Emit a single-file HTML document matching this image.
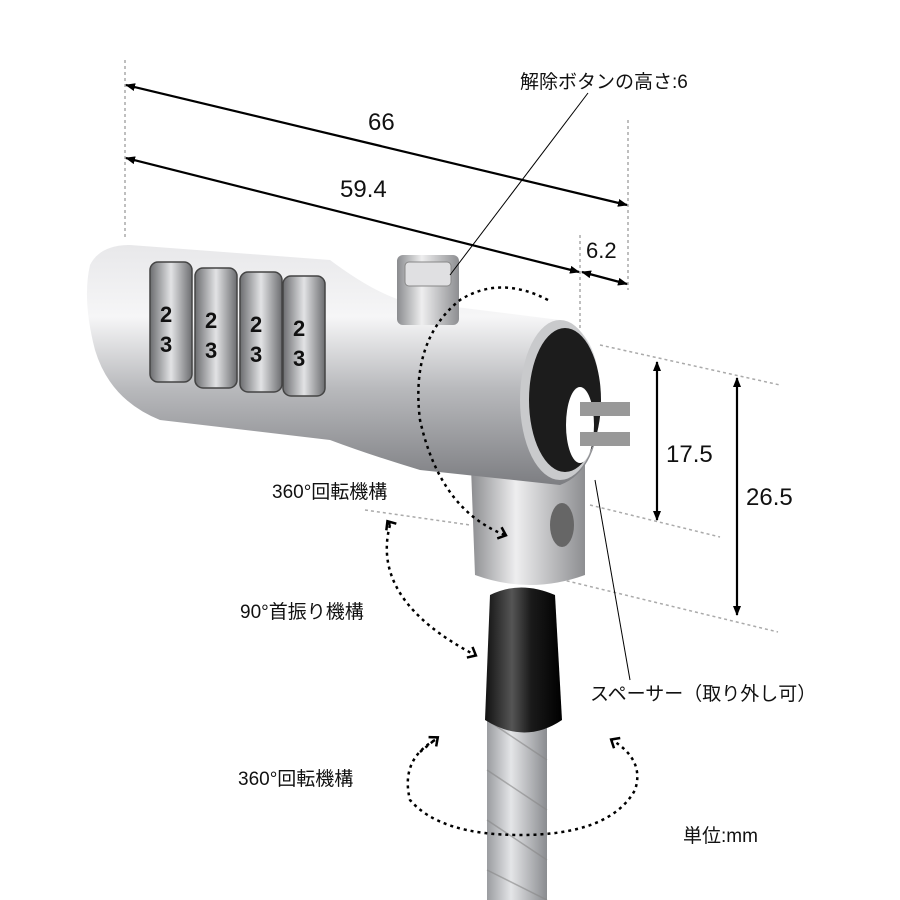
<!DOCTYPE html>
<html><head><meta charset="utf-8"><style>
body{margin:0;background:#fff;}
svg{display:block}
text{font-family:"Liberation Sans","Noto Sans CJK JP",sans-serif;fill:#111}
</style></head><body>
<svg width="900" height="900" viewBox="0 0 900 900" xmlns="http://www.w3.org/2000/svg">
<defs>
<linearGradient id="silv" x1="0" y1="0" x2="0" y2="1">
<stop offset="0" stop-color="#e8e8ea"/><stop offset="0.3" stop-color="#f6f6f7"/><stop offset="0.6" stop-color="#b8b9bc"/><stop offset="1" stop-color="#7d7e82"/></linearGradient>
<linearGradient id="silvh" x1="0" y1="0" x2="1" y2="0">
<stop offset="0" stop-color="#8a8b8e"/><stop offset="0.4" stop-color="#eeeeef"/><stop offset="1" stop-color="#8d8e91"/></linearGradient>
<linearGradient id="dial" x1="0" y1="0" x2="1" y2="0">
<stop offset="0" stop-color="#6c6d70"/><stop offset="0.5" stop-color="#e2e3e5"/><stop offset="1" stop-color="#6c6d70"/></linearGradient>
<linearGradient id="blk" x1="0" y1="0" x2="1" y2="0">
<stop offset="0" stop-color="#111"/><stop offset="0.35" stop-color="#555"/><stop offset="0.6" stop-color="#1a1a1a"/><stop offset="1" stop-color="#000"/></linearGradient>
<linearGradient id="cab" x1="0" y1="0" x2="1" y2="0">
<stop offset="0" stop-color="#9a9ca0"/><stop offset="0.4" stop-color="#e4e5e7"/><stop offset="1" stop-color="#8a8c90"/></linearGradient>
<marker id="ah" markerWidth="10" markerHeight="10" refX="9" refY="5" orient="auto-start-reverse" markerUnits="userSpaceOnUse"><path d="M0,1 L10,5 L0,9 z" fill="#000"/></marker>
<marker id="ah2" markerWidth="14" markerHeight="14" refX="7" refY="7" orient="auto" markerUnits="userSpaceOnUse"><path d="M1,1 L8,7 L1,13" fill="none" stroke="#000" stroke-width="2.5"/></marker>
</defs>

<g stroke="#aaa" stroke-width="1.5" stroke-dasharray="3,3" fill="none">
<line x1="125" y1="60" x2="125" y2="240"/>
<line x1="628" y1="120" x2="628" y2="290"/>
<line x1="580" y1="235" x2="580" y2="330"/>
<line x1="600" y1="345" x2="780" y2="385"/>
<line x1="590" y1="505" x2="720" y2="537"/>
<line x1="365" y1="510" x2="470" y2="525"/>
<line x1="555" y1="578" x2="778" y2="632"/>
</g>

<rect x="487" y="690" width="60" height="210" fill="url(#cab)"/>
<g stroke="#888" stroke-width="1.5" opacity="0.6">
<line x1="487" y1="720" x2="547" y2="760"/><line x1="487" y1="770" x2="547" y2="810"/><line x1="487" y1="820" x2="547" y2="860"/><line x1="487" y1="870" x2="547" y2="900"/>
</g>
<path d="M490,595 Q520,580 555,595 L562,720 Q525,745 485,720 Z" fill="url(#blk)"/>
<path d="M470,440 L585,440 L585,575 Q530,595 475,575 Z" fill="url(#silvh)"/>
<ellipse cx="562" cy="525" rx="12" ry="22" fill="#666"/>

<path d="M90,265 Q100,245 130,245 L330,260 Q370,290 400,300 L560,320 Q600,330 600,400 Q600,470 560,485 L420,470 Q370,455 330,440 L160,420 Q110,400 95,350 Q82,300 90,265 Z" fill="url(#silv)"/>
<ellipse cx="560" cy="400" rx="40" ry="80" fill="#c9cacc"/>
<ellipse cx="565" cy="400" rx="36" ry="72" fill="#1c1c1c"/>
<ellipse cx="580" cy="425" rx="14" ry="38" fill="#fff"/>
<rect x="580" y="402" width="50" height="14" fill="#999"/>
<rect x="580" y="432" width="50" height="14" fill="#999"/>
<g stroke="#444" stroke-width="1.5">
<rect x="150" y="262" width="42" height="120" rx="8" fill="url(#dial)"/>
<rect x="195" y="268" width="42" height="120" rx="8" fill="url(#dial)"/>
<rect x="240" y="272" width="42" height="120" rx="8" fill="url(#dial)"/>
<rect x="283" y="276" width="42" height="120" rx="8" fill="url(#dial)"/>
</g>
<g font-size="22" font-weight="bold" fill="#222">
<text x="160" y="322">2</text><text x="160" y="352">3</text>
<text x="205" y="328">2</text><text x="205" y="358">3</text>
<text x="250" y="332">2</text><text x="250" y="362">3</text>
<text x="293" y="336">2</text><text x="293" y="366">3</text>
</g>
<rect x="397" y="255" width="62" height="70" rx="6" fill="url(#silvh)"/>
<rect x="405" y="262" width="46" height="24" rx="4" fill="#e0e0e2" stroke="#888"/>

<g stroke="#000" stroke-width="2.2" fill="none">
<line x1="126" y1="85" x2="627" y2="205" marker-start="url(#ah)" marker-end="url(#ah)"/>
<line x1="126" y1="158" x2="579" y2="272" marker-start="url(#ah)" marker-end="url(#ah)"/>
<line x1="582" y1="272" x2="627" y2="284" marker-start="url(#ah)" marker-end="url(#ah)"/>
<line x1="657" y1="362" x2="657" y2="520" marker-start="url(#ah)" marker-end="url(#ah)"/>
<line x1="737" y1="378" x2="737" y2="615" marker-start="url(#ah)" marker-end="url(#ah)"/>
</g>
<g stroke="#000" stroke-width="1" fill="none">
<line x1="588" y1="93" x2="450" y2="275"/>
<line x1="595" y1="480" x2="630" y2="680"/>
</g>
<g stroke="#000" stroke-width="2.5" stroke-dasharray="3,4" fill="none">
<path d="M548,300 Q500,275 460,300 Q410,340 420,420 Q440,510 505,535" marker-end="url(#ah2)"/>
<path d="M390,525 Q370,600 475,655" marker-end="url(#ah2)"/>
<path d="M390,525 L388,522" marker-end="url(#ah2)"/>
<path d="M435,740 Q400,760 410,800 Q440,835 520,835 Q610,835 635,790 Q645,760 612,740" marker-end="url(#ah2)"/>
<path d="M420,752 L437,738" marker-end="url(#ah2)"/>
</g>

<text x="520" y="88" font-size="19">解除ボタンの高さ:6</text>
<text x="368" y="130" font-size="24">66</text>
<text x="340" y="197" font-size="24">59.4</text>
<text x="586" y="258" font-size="22">6.2</text>
<text x="666" y="462" font-size="24">17.5</text>
<text x="746" y="505" font-size="24">26.5</text>
<text x="272" y="498" font-size="19">360°回転機構</text>
<text x="240" y="618" font-size="19">90°首振り機構</text>
<text x="590" y="700" font-size="19">スペーサー（取り外し可）</text>
<text x="238" y="785" font-size="19">360°回転機構</text>
<text x="683" y="842" font-size="19">単位:mm</text>
</svg>
</body></html>
